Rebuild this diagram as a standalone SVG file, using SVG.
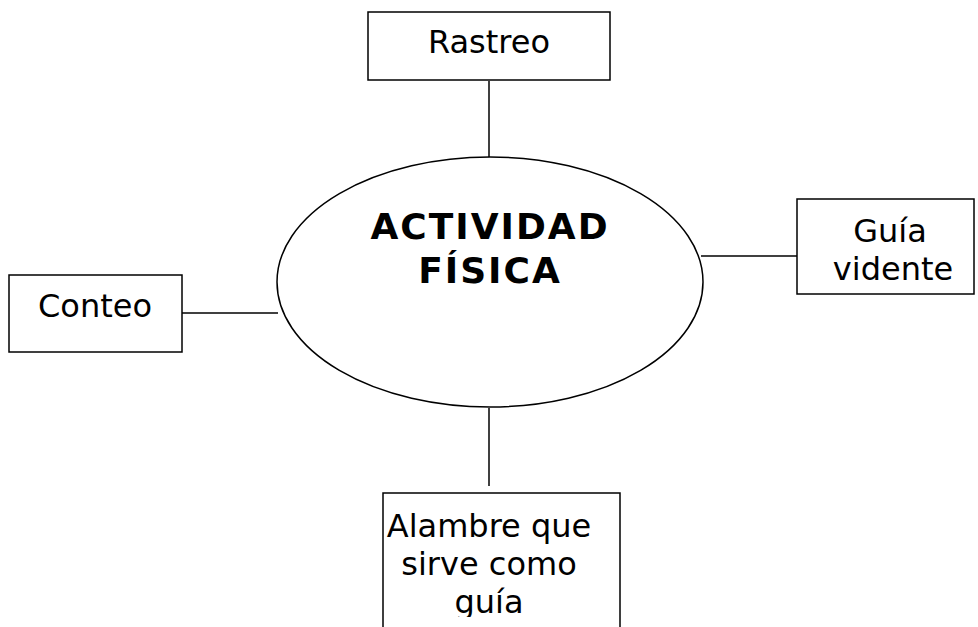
<svg xmlns="http://www.w3.org/2000/svg" width="978" height="627" viewBox="0 0 978 627">
<style>
.box{fill:#fff;stroke:#000;stroke-width:1.5}
.lbl{font-family:"DejaVu Sans","Verdana",sans-serif;font-size:32px;fill:#000;text-anchor:middle}
.title{font-family:"DejaVu Sans","Verdana",sans-serif;font-size:36px;font-weight:bold;fill:#000;text-anchor:middle;letter-spacing:2px}
.con{stroke:#000;stroke-width:1.5;fill:none}
</style>
<defs>
<clipPath id="clipBottom"><rect x="0" y="0" width="978" height="617"/></clipPath>
</defs>
<rect width="978" height="627" fill="#fff"/>
<g id="connectors">
<line class="con" x1="489" y1="81" x2="489" y2="159"/>
<line class="con" x1="182" y1="313" x2="278" y2="313"/>
<line class="con" x1="701" y1="256" x2="797" y2="256"/>
<line class="con" x1="489" y1="408" x2="489" y2="486"/>
</g>
<g id="center">
<ellipse cx="490" cy="282" rx="213" ry="125" fill="#fff" stroke="#000" stroke-width="1.5"/>
<text class="title" x="490" y="239">ACTIVIDAD</text>
<text class="title" x="490" y="283">FÍSICA</text>
</g>
<g id="rastreo">
<rect class="box" x="368" y="12" width="242" height="68"/>
<text class="lbl" x="489" y="53">Rastreo</text>
</g>
<g id="conteo">
<rect class="box" x="9" y="275" width="173" height="77"/>
<text class="lbl" x="95" y="317">Conteo</text>
</g>
<g id="guia">
<rect class="box" x="797" y="199" width="177" height="95"/>
<text class="lbl" x="890" y="242">Guía</text>
<text class="lbl" x="893" y="280">vidente</text>
</g>
<g id="alambre">
<path class="con" d="M383 630 V493 H620 V630"/>
<g clip-path="url(#clipBottom)">
<text class="lbl" x="489" y="537">Alambre que</text>
<text class="lbl" x="489" y="575">sirve como</text>
<text class="lbl" x="489" y="613">guía</text>
</g>
</g>
</svg>
